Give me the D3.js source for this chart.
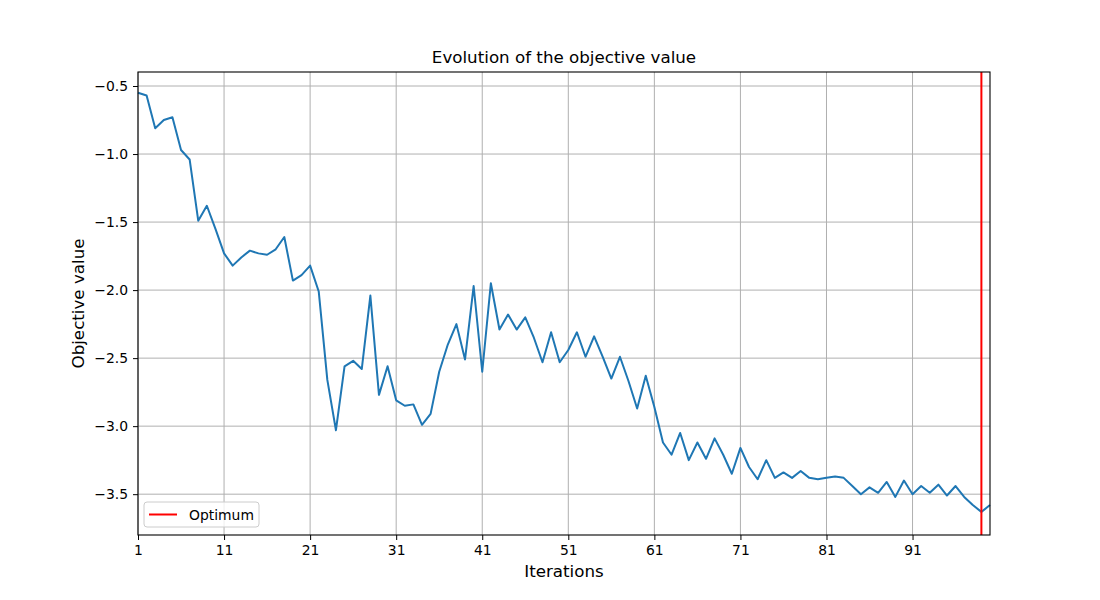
<!DOCTYPE html>
<meta charset="utf-8">
<script src="https://d3js.org/d3.v7.min.js"></script>
<style>
  body { margin: 0; background: #fff; }
  text { font-family: "DejaVu Sans", sans-serif; fill: #000; }
</style>
<div id="my_dataviz"></div>
<script>

    // objective value per iteration
    var iterations = d3.range(1, 101);
    var objective = [
      -0.55, -0.57, -0.81, -0.75, -0.73, -0.97, -1.04, -1.49, -1.38, -1.55,
      -1.73, -1.82, -1.76, -1.71, -1.73, -1.74, -1.70, -1.61, -1.93, -1.89,
      -1.82, -2.01, -2.66, -3.03, -2.56, -2.52, -2.58, -2.04, -2.77, -2.56,
      -2.81, -2.85, -2.84, -2.99, -2.91, -2.60, -2.40, -2.25, -2.51, -1.97,
      -2.60, -1.95, -2.29, -2.18, -2.29, -2.20, -2.35, -2.53, -2.31, -2.53,
      -2.44, -2.31, -2.49, -2.34, -2.49, -2.65, -2.49, -2.67, -2.87, -2.63,
      -2.86, -3.12, -3.21, -3.05, -3.25, -3.12, -3.24, -3.09, -3.21, -3.35,
      -3.16, -3.30, -3.39, -3.25, -3.38, -3.34, -3.38, -3.33, -3.38, -3.39,
      -3.38, -3.37, -3.38, -3.44, -3.50, -3.45, -3.49, -3.41, -3.52, -3.40,
      -3.50, -3.44, -3.49, -3.43, -3.51, -3.44, -3.52, -3.58, -3.63, -3.58
    ];
    var optimumIter = 99;
    var xTicks = [1, 11, 21, 31, 41, 51, 61, 71, 81, 91];
    var yTicks = [-0.5, -1.0, -1.5, -2.0, -2.5, -3.0, -3.5];

    var margin = {top: 72, right: 110, bottom: 65, left: 138},
        width = 1100 - margin.left - margin.right,
        height = 600 - margin.top - margin.bottom;

    var svg = d3.select("#my_dataviz")
      .append("svg")
        .attr("width", 1100)
        .attr("height", 600)
      .append("g")
        .attr("transform", "translate(" + margin.left + "," + margin.top + ")");

    var x = d3.scaleLinear().domain([1, 100]).range([0, width]);
    var y = d3.scaleLinear().domain([-3.80, -0.397]).range([height, 0]);

    // grid
    svg.append("g").selectAll("line.gx")
      .data(xTicks).enter().append("line")
        .attr("x1", function(d) { return x(d); }).attr("x2", function(d) { return x(d); })
        .attr("y1", 0).attr("y2", height)
        .attr("stroke", "#b0b0b0").attr("stroke-width", 1);
    svg.append("g").selectAll("line.gy")
      .data(yTicks).enter().append("line")
        .attr("y1", function(d) { return y(d); }).attr("y2", function(d) { return y(d); })
        .attr("x1", 0).attr("x2", width)
        .attr("stroke", "#b0b0b0").attr("stroke-width", 1);

    // axes
    var fmtY = function(d) { return d3.format(".1f")(d).replace("-", "\u2212"); };
    var xAxis = svg.append("g")
      .attr("transform", "translate(0," + height + ")")
      .call(d3.axisBottom(x).tickValues(xTicks).tickSize(5).tickPadding(5));
    var yAxis = svg.append("g")
      .call(d3.axisLeft(y).tickValues(yTicks).tickFormat(fmtY).tickSize(5).tickPadding(5));
    [xAxis, yAxis].forEach(function(a) {
      a.select(".domain").remove();
      a.selectAll("text").style("font-size", "13.9px").style("font-family", "DejaVu Sans");
      a.selectAll("line").attr("stroke", "#000");
    });

    // line
    var line = d3.line()
      .x(function(d, i) { return x(iterations[i]); })
      .y(function(d) { return y(d); });
    svg.append("path")
      .datum(objective)
      .attr("fill", "none")
      .attr("stroke", "#1f77b4")
      .attr("stroke-width", 2)
      .attr("stroke-linejoin", "round")
      .attr("d", line);

    // optimum
    svg.append("line")
      .attr("x1", x(optimumIter)).attr("x2", x(optimumIter))
      .attr("y1", 0).attr("y2", height)
      .attr("stroke", "red").attr("stroke-width", 2);

    // frame
    svg.append("rect")
      .attr("width", width).attr("height", height)
      .attr("fill", "none").attr("stroke", "#000").attr("stroke-width", 1.1);

    // title and labels
    svg.append("text")
      .attr("x", width / 2).attr("y", -9)
      .style("text-anchor", "middle").style("font-size", "16.7px")
      .text("Evolution of the objective value");
    svg.append("text")
      .attr("x", width / 2).attr("y", height + 42)
      .style("text-anchor", "middle").style("font-size", "16.7px")
      .text("Iterations");
    svg.append("text")
      .attr("transform", "translate(-54," + (height / 2) + ") rotate(-90)")
      .style("text-anchor", "middle").style("font-size", "16.7px")
      .text("Objective value");

    // legend
    var lg = svg.append("g").attr("transform", "translate(6," + (height - 33) + ")");
    lg.append("rect")
      .attr("width", 115).attr("height", 25).attr("rx", 3)
      .attr("fill", "#fff").attr("fill-opacity", 0.8)
      .attr("stroke", "#cccccc").attr("stroke-width", 1);
    lg.append("line")
      .attr("x1", 5).attr("x2", 33).attr("y1", 12.5).attr("y2", 12.5)
      .attr("stroke", "red").attr("stroke-width", 2);
    lg.append("text")
      .attr("x", 45).attr("y", 17.5)
      .style("font-size", "13.9px")
      .text("Optimum");

</script>
